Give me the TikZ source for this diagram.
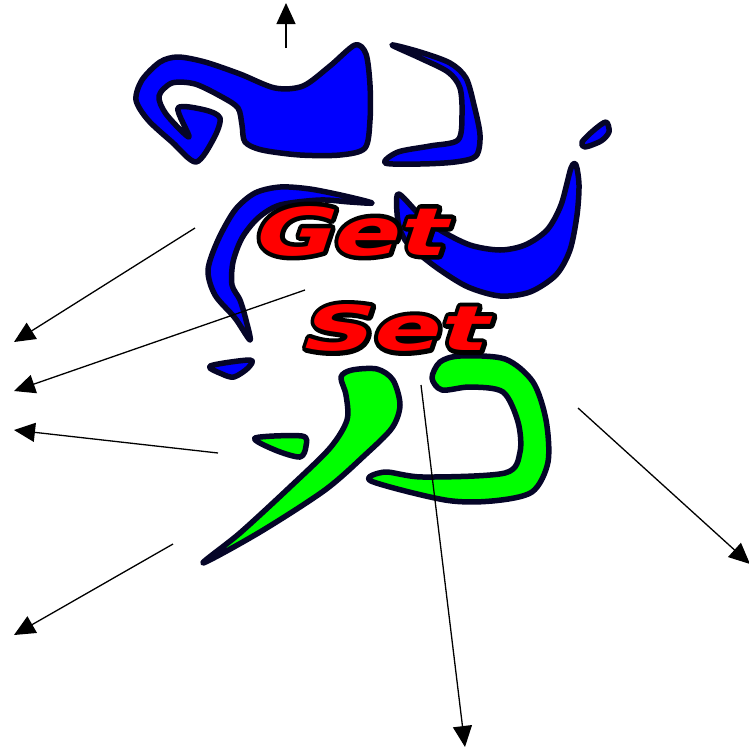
\documentclass[tikz,border=0pt]{standalone}
\usepackage{fontspec}
\usepackage{xcolor}
\usetikzlibrary{positioning,calc,arrows.meta}

\newfontfamily\getfont[FakeSlant=0.33,FakeStretch=1.48]{DejaVu Sans Bold}
\newfontfamily\setfont[FakeSlant=0.33,FakeStretch=1.6]{DejaVu Sans Bold}
% black rim drawn under the red letters
\newcommand\inked[1]{\rlap{\special{pdf:literal direct q 1 Tr 9 w 1 j 0 0 0 RG}#1\special{pdf:literal direct Q}}#1}
\definecolor{inkline}{RGB}{5,5,40}

\begin{document}
\begin{tikzpicture}[x=1pt, y=-1pt, ->, >={Triangle[length=21pt,width=19pt]}, every edge/.append style={line width=1.3pt},
  blob/.style={draw=inkline, line width=5.5pt, line join=round, -},
  bluepart/.style={blob, fill=blue},
  greenpart/.style={blob, fill=green},
  logo/.style={text=red, inner sep=0pt}]

\useasboundingbox (0,0) rectangle (749,748);

% blue pieces
\draw[bluepart] plot[smooth cycle, tension=0.5] coordinates {(196,162) (172,142) (148,120) (136,100) (142,80) (160,62) (178,57) (205,62) (240,74) (275,88) (303,86) (330,66) (355,45) (366,54) (370,85) (370,120) (365,148) (340,155) (300,155) (262,150) (245,142) (242,125) (238,108) (222,97) (195,84) (172,83) (159,96) (166,114) (189,137) (178,108) (205,110) (220,118) (214,138)};
\draw[bluepart] plot[smooth cycle, tension=0.5] coordinates {(392,45) (420,52) (450,63) (466,78) (474,105) (480,135) (476,156) (455,162) (420,164) (385,163) (398,152) (430,146) (458,140) (462,115) (460,88) (448,72) (420,58)};
\draw[bluepart] plot[smooth cycle, tension=0.5] coordinates {(606,122) (609,132) (601,141) (585,147) (582,142) (594,130)};
\draw[bluepart] plot[smooth cycle, tension=0.5] coordinates {(372,203) (345,196) (310,189) (280,187) (255,193) (235,210) (218,240) (208,270) (215,295) (235,318) (250,340) (246,320) (240,300) (232,285) (233,262) (242,238) (258,218) (280,205) (320,200) (350,202)};
\draw[bluepart] plot[smooth cycle, tension=0.5] coordinates {(398,194) (418,213) (440,230) (470,245) (500,250) (525,245) (547,230) (561,205) (571,168) (576,165) (579,185) (577,215) (570,250) (556,275) (530,292) (500,296) (468,287) (440,270) (418,253) (405,240) (398,222)};
\draw[bluepart] plot[smooth cycle, tension=0.5] coordinates {(210,366) (250,360) (248,368) (234,377) (222,374)};

% green pieces
\draw[greenpart] plot[smooth cycle, tension=0.5] coordinates {(255,438) (302,436) (306,446) (300,457) (275,450)};
\draw[greenpart] plot[smooth cycle, tension=0.5] coordinates {(341,377) (352,370) (377,369) (393,380) (400,405) (392,428) (365,455) (325,490) (260,532) (203,563) (240,533) (290,487) (330,448) (347,420) (346,395)};
\draw[greenpart] plot[smooth cycle, tension=0.5] coordinates {(432,378) (440,362) (460,356) (505,359) (533,382) (546,420) (548,462) (532,492) (492,501) (445,500) (371,481) (385,472) (423,477) (505,473) (520,452) (518,422) (503,392) (470,387) (442,390)};

% words
\node[logo, font=\getfont\fontsize{66}{66}\selectfont] (get) at (346,231) {\inked{Get}};
\node[logo, font=\setfont\fontsize{62}{62}\selectfont] (set) at (391,328) {\inked{Set}};

% arrows
\coordinate (top) at (286,48);
\coordinate (topend) at (286,3);
\coordinate (w1) at (195,228);
\coordinate (w1end) at (14,342);
\coordinate (w2) at (305,290);
\coordinate (w2end) at (14,391);
\coordinate (w3) at (218,453);
\coordinate (w3end) at (14,430);
\coordinate (w4) at (173,544);
\coordinate (w4end) at (14,635);
\coordinate (down) at (421,385);
\coordinate (downend) at (465,747);
\coordinate (east) at (578,408);
\coordinate (eastend) at (750,564);

\path
    (top) edge (topend)
    (w1) edge (w1end)
    (w2) edge (w2end)
    (w3) edge (w3end)
    (w4) edge (w4end)
    (down) edge (downend)
    (east) edge (eastend);
\end{tikzpicture}
\end{document}
